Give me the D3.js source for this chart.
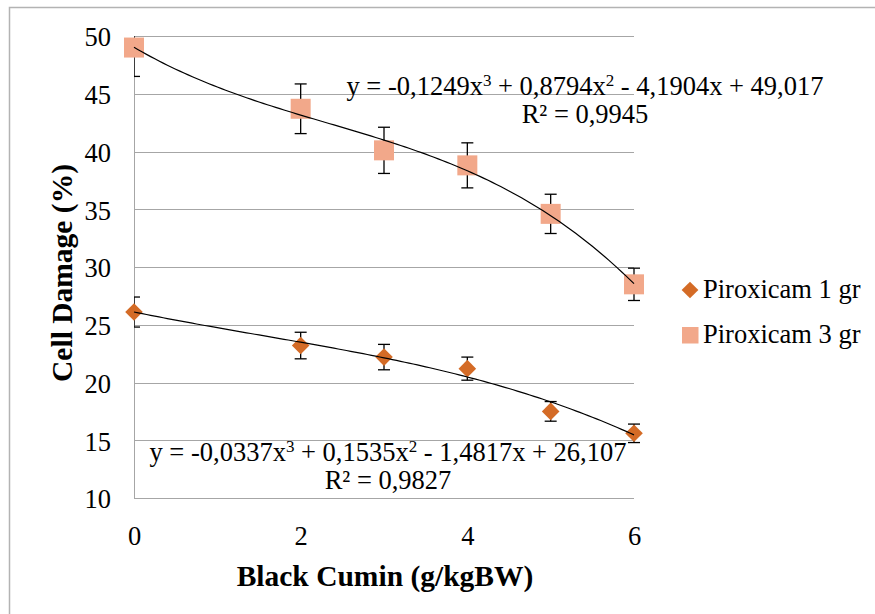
<!DOCTYPE html>
<html>
<head>
<meta charset="utf-8">
<script src="https://cdn.jsdelivr.net/npm/d3@7"></script>
<style>
  body { margin: 0; background: #fff; }
  svg { display: block; font-family: "Liberation Serif", "Times New Roman", serif; }
</style>
</head>
<body>
<div id="chart"></div>
<script>
// data
const doses = [0, 2, 3, 4, 5, 6];
const piro1 = [26.1, 23.2, 22.2, 21.2, 17.5, 15.6];
const piro1Err = [1.3, 1.15, 1.1, 1.0, 0.85, 0.8];
const piro3 = [49.0, 43.7, 40.1, 38.8, 34.6, 28.5];
const piro3Err = [2.5, 2.15, 2.0, 1.95, 1.7, 1.4];
// trendline coefficients (c0 + c1 x + c2 x^2 + c3 x^3), as printed on the chart
const trend1 = [26.107, -1.4817, 0.1535, -0.0337];
const trend3 = [49.017, -4.1904, 0.8794, -0.1249];
const seriesNames = ["Piroxicam 1 gr", "Piroxicam 3 gr"];
const yTicks = [10, 15, 20, 25, 30, 35, 40, 45, 50];
const xTicks = [0, 2, 4, 6];

const w = 875, h = 614;
const pLeft = 134, pRight = 634, pTop = 36, pBottom = 498;
const col1 = "#d46b26", col3 = "#f2a88a";
const fs = "26.5px";

const svg = d3.select("#chart").append("svg")
    .attr("width", w)
    .attr("height", h);

// outer chart border
svg.append("rect")
    .attr("x", 9.5).attr("y", 7.5)
    .attr("width", 900).attr("height", 700)
    .attr("fill", "#fff")
    .attr("stroke", "#b3b3b3")
    .attr("stroke-width", 1.5);

const x = d3.scaleLinear().domain([0, 6]).range([pLeft, pRight]);
const y = d3.scaleLinear().domain([10, 50]).range([pBottom, pTop]);

// gridlines
svg.append("g")
    .selectAll("line")
    .data(yTicks.slice(1))
    .enter()
    .append("line")
    .attr("x1", pLeft).attr("x2", pRight)
    .attr("y1", d => Math.round(y(d)) + 0.5)
    .attr("y2", d => Math.round(y(d)) + 0.5)
    .attr("stroke", "#a6a6a6")
    .attr("stroke-width", 1);

// y axis
const yAxis = svg.append("g")
    .attr("transform", "translate(" + pLeft + ",0)")
    .call(d3.axisLeft(y).tickValues(yTicks).tickFormat(d3.format("d")).tickSize(0).tickPadding(23));
yAxis.attr("font-family", null);
yAxis.select(".domain").remove();
yAxis.selectAll("text")
    .attr("dy", "0.37em")
    .style("font-size", fs)
    .attr("fill", "#000");

// x axis
const xAxis = svg.append("g")
    .attr("transform", "translate(0," + pBottom + ")")
    .call(d3.axisBottom(x).tickValues(xTicks).tickFormat(d3.format("d")).tickSize(0).tickPadding(28));
xAxis.attr("font-family", null);
xAxis.select(".domain").remove();
xAxis.selectAll("text")
    .style("font-size", fs)
    .attr("fill", "#000");

// axis lines
svg.append("line")
    .attr("x1", pLeft + 0.5).attr("x2", pLeft + 0.5)
    .attr("y1", pTop).attr("y2", pBottom + 0.5)
    .attr("stroke", "#a6a6a6");
svg.append("line")
    .attr("x1", pLeft).attr("x2", pRight)
    .attr("y1", pBottom + 0.5).attr("y2", pBottom + 0.5)
    .attr("stroke", "#a6a6a6");

// axis titles
svg.append("text")
    .attr("x", 385).attr("y", 586)
    .attr("text-anchor", "middle")
    .style("font-weight", "bold")
    .style("font-size", "29.5px")
    .text("Black Cumin (g/kgBW)");
svg.append("text")
    .attr("transform", "translate(72,273) rotate(-90)")
    .attr("text-anchor", "middle")
    .style("font-weight", "bold")
    .style("font-size", "29.5px")
    .text("Cell Damage (%)");

// clip for error bars
svg.append("clipPath").attr("id", "plotClip")
    .append("rect")
    .attr("x", pLeft).attr("y", pTop)
    .attr("width", 700 - pLeft).attr("height", pBottom - pTop);

function poly(c, v) {
    return c[0] + c[1] * v + c[2] * v * v + c[3] * v * v * v;
}

const line = d3.line()
    .x(d => x(d))
    .curve(d3.curveLinear);

const xs = d3.range(0, 6.001, 0.05);

function drawSeries(vals, errs, coef, color, area, rot) {
    const pts = doses.map((d, i) => ({ x: d, y: vals[i], e: errs[i] }));

    // error bars
    const eb = svg.append("g").attr("clip-path", "url(#plotClip)")
        .attr("stroke", "#000").attr("stroke-width", 1.3);
    eb.selectAll(".v").data(pts).enter().append("line")
        .attr("x1", d => x(d.x)).attr("x2", d => x(d.x))
        .attr("y1", d => y(d.y + d.e)).attr("y2", d => y(d.y - d.e));
    eb.selectAll(".t").data(pts).enter().append("line")
        .attr("x1", d => x(d.x) - 6).attr("x2", d => x(d.x) + 6)
        .attr("y1", d => y(d.y + d.e)).attr("y2", d => y(d.y + d.e));
    eb.selectAll(".b").data(pts).enter().append("line")
        .attr("x1", d => x(d.x) - 6).attr("x2", d => x(d.x) + 6)
        .attr("y1", d => y(d.y - d.e)).attr("y2", d => y(d.y - d.e));

    // markers
    svg.append("g").selectAll("path").data(pts).enter().append("path")
        .attr("d", d3.symbol(d3.symbolSquare, area))
        .attr("transform", d => "translate(" + x(d.x) + "," + y(d.y) + ") rotate(" + rot + ")")
        .attr("fill", color);

    // trendline
    svg.append("path")
        .datum(xs)
        .attr("d", line.y(v => y(poly(coef, v))))
        .attr("fill", "none")
        .attr("stroke", "#000")
        .attr("stroke-width", 1.2);
}

drawSeries(piro3, piro3Err, trend3, col3, 400, 0);
drawSeries(piro1, piro1Err, trend1, col1, 155, 45);

// equations
function equation(cx, by, c, r2) {
    const fmt = v => Math.abs(v).toString().replace(".", ",");
    const sg = v => (v < 0 ? " - " : " + ");
    const t = svg.append("text")
        .attr("x", cx).attr("y", by)
        .attr("text-anchor", "middle")
        .style("font-size", fs);
    t.append("tspan").text("y = " + (c[3] < 0 ? "-" : "") + fmt(c[3]) + "x");
    t.append("tspan").attr("dy", -9).style("font-size", "17px").text("3");
    t.append("tspan").attr("dy", 9).text(sg(c[2]) + fmt(c[2]) + "x");
    t.append("tspan").attr("dy", -9).style("font-size", "17px").text("2");
    t.append("tspan").attr("dy", 9).text(sg(c[1]) + fmt(c[1]) + "x" + sg(c[0]) + fmt(c[0]));
    svg.append("text")
        .attr("x", cx).attr("y", by + 28)
        .attr("text-anchor", "middle")
        .style("font-size", fs)
        .text("R² = " + r2);
}
equation(585, 95, trend3, "0,9945");
equation(388, 461, trend1, "0,9827");

// legend
const legend = svg.append("g");
legend.append("path")
    .attr("d", d3.symbol(d3.symbolSquare, 140))
    .attr("transform", "translate(690,290) rotate(45)")
    .attr("fill", col1);
legend.append("rect")
    .attr("x", 682).attr("y", 327)
    .attr("width", 16.5).attr("height", 16.5)
    .attr("fill", col3);
legend.selectAll("text.lg")
    .data(seriesNames)
    .enter()
    .append("text")
    .attr("class", "lg")
    .attr("x", 703)
    .attr("y", (d, i) => 298 + i * 45)
    .style("font-size", fs)
    .text(d => d);
</script>
</body>
</html>
